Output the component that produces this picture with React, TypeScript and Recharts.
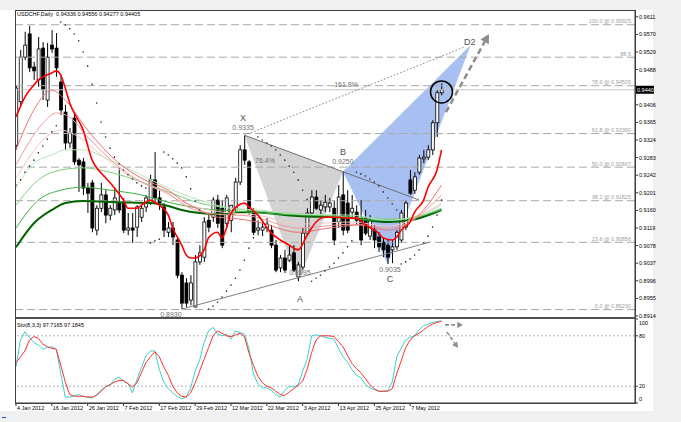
import { ComposedChart, Bar, Line, XAxis, YAxis, ReferenceLine, ReferenceArea, ReferenceDot } from "recharts";

// USDCHF daily, 4 Jan 2012 - 16 May 2012 (bar index 0..95)
const opens = [
  0.9312, 0.9413, 0.9517, 0.9571, 0.9494, 0.9464, 0.9538, 0.9417, 0.9545, 0.9538,
  0.9459, 0.9389, 0.9317, 0.9375, 0.9277, 0.9273, 0.9212, 0.9224, 0.9114, 0.9165,
  0.9196, 0.9149, 0.9161, 0.9177, 0.9179, 0.9114, 0.9119, 0.9121, 0.9144, 0.9168,
  0.9179, 0.9231, 0.9189, 0.9168, 0.9109, 0.9119, 0.9091, 0.9009, 0.8991, 0.8951,
  0.8935, 0.904, 0.9051, 0.9137, 0.9144, 0.9184, 0.9165, 0.913, 0.9137, 0.9165,
  0.9226, 0.9301, 0.9273, 0.9156, 0.9114, 0.9114, 0.9119, 0.9114, 0.9079, 0.9026,
  0.9049, 0.9044, 0.9061, 0.9005, 0.9028, 0.9107, 0.9154, 0.9191, 0.9161, 0.9168,
  0.9168, 0.9165, 0.9133, 0.9196, 0.9177, 0.9156, 0.9156, 0.9144, 0.9142, 0.91,
  0.9114, 0.9098, 0.9086, 0.9079, 0.9068, 0.9075, 0.9091, 0.9121, 0.9231, 0.9207,
  0.9249, 0.928, 0.9284, 0.9301, 0.9364, 0.9434,
];
const highs = [
  0.9452, 0.9534, 0.9576, 0.959, 0.9506, 0.9564, 0.9552, 0.955, 0.958, 0.9573,
  0.9475, 0.9406, 0.9352, 0.9389, 0.9282, 0.9282, 0.9224, 0.9231, 0.9172, 0.9224,
  0.9207, 0.9172, 0.9212, 0.9259, 0.9189, 0.9154, 0.9154, 0.9172, 0.9172, 0.9196,
  0.9243, 0.9296, 0.9207, 0.9177, 0.9133, 0.9133, 0.9098, 0.9016, 0.9002, 0.9009,
  0.9056, 0.9079, 0.9142, 0.9154, 0.9191, 0.9196, 0.9184, 0.9196, 0.9172, 0.9236,
  0.9312, 0.9335, 0.9277, 0.9165, 0.9137, 0.9133, 0.9142, 0.9126, 0.9091, 0.9056,
  0.9068, 0.9079, 0.9079, 0.904, 0.9119, 0.9165, 0.9207, 0.9207, 0.9184, 0.9196,
  0.9189, 0.9184, 0.9219, 0.925, 0.9207, 0.9196, 0.9172, 0.9184, 0.9161, 0.9149,
  0.9126, 0.9109, 0.9096, 0.9091, 0.9091, 0.9114, 0.9161, 0.9184, 0.9254, 0.9249,
  0.9289, 0.9301, 0.9312, 0.937, 0.9441, 0.9456,
];
const lows = [
  0.9301, 0.9403, 0.951, 0.9482, 0.9464, 0.9448, 0.9417, 0.9401, 0.9527, 0.9471,
  0.9382, 0.9301, 0.9305, 0.9266, 0.9203, 0.9196, 0.9154, 0.9109, 0.9102, 0.9156,
  0.913, 0.9137, 0.9149, 0.9154, 0.9107, 0.9102, 0.9084, 0.9098, 0.9133, 0.9156,
  0.9172, 0.9177, 0.9161, 0.9098, 0.9098, 0.9079, 0.9002, 0.893, 0.8935, 0.8939,
  0.8934, 0.9033, 0.904, 0.9109, 0.9133, 0.9119, 0.9072, 0.9119, 0.9109, 0.9156,
  0.9219, 0.9266, 0.9149, 0.9102, 0.9102, 0.91, 0.9109, 0.9072, 0.9016, 0.9016,
  0.9014, 0.904, 0.9016, 0.8995, 0.9021, 0.91, 0.9147, 0.9161, 0.9149, 0.9156,
  0.9156, 0.9079, 0.9119, 0.9102, 0.9107, 0.9142, 0.9126, 0.9079, 0.9102, 0.9091,
  0.9072, 0.9063, 0.9051, 0.9035, 0.9037, 0.9068, 0.9084, 0.9114, 0.9196, 0.9198,
  0.9243, 0.927, 0.9277, 0.9289, 0.9331, 0.9428,
];
const closes = [
  0.9445, 0.9517, 0.9545, 0.9492, 0.9485, 0.9536, 0.9441, 0.9517, 0.9536, 0.9492,
  0.9394, 0.9317, 0.934, 0.9273, 0.9266, 0.9212, 0.92, 0.9119, 0.9165, 0.9196,
  0.9149, 0.9165, 0.9189, 0.9161, 0.9114, 0.9119, 0.9114, 0.9168, 0.9165, 0.9189,
  0.9231, 0.9189, 0.9177, 0.9114, 0.9119, 0.9098, 0.9009, 0.8944, 0.8944, 0.8991,
  0.904, 0.9061, 0.9133, 0.9121, 0.9184, 0.913, 0.9079, 0.9189, 0.9172, 0.9226,
  0.9301, 0.9277, 0.9156, 0.9109, 0.9119, 0.9121, 0.9128, 0.9079, 0.9021, 0.9049,
  0.9021, 0.9056, 0.9021, 0.9033, 0.9107, 0.9154, 0.9191, 0.9165, 0.9172, 0.9179,
  0.9177, 0.9091, 0.9191, 0.9114, 0.9114, 0.9165, 0.9137, 0.9091, 0.9107, 0.9137,
  0.9091, 0.9075, 0.9068, 0.9051, 0.9075, 0.9109, 0.9154, 0.9177, 0.92, 0.9238,
  0.9282, 0.9284, 0.9301, 0.9364, 0.9434, 0.9441,
];
// parabolic SAR
const sar = [
  0.9219, 0.9231, 0.9249, 0.9263, 0.9277, 0.9294, 0.931, 0.9326, 0.9343, 0.9357,
  0.9599, 0.9592, 0.9583, 0.9571, 0.9555, 0.9529, 0.9496, 0.9454, 0.941, 0.9366,
  0.9331, 0.9305, 0.9284, 0.9268, 0.9254, 0.9243, 0.9233, 0.9224, 0.9217, 0.9212,
  0.9084, 0.9089, 0.9093, 0.9296, 0.9289, 0.928, 0.927, 0.9259, 0.9238, 0.921,
  0.9182, 0.9161, 0.9142, 0.893, 0.8937, 0.8946, 0.8958, 0.8972, 0.8986, 0.9002,
  0.9021, 0.9044, 0.9072, 0.9096, 0.9331, 0.9324, 0.9317, 0.931, 0.9301, 0.9289,
  0.9277, 0.9263, 0.9249, 0.9231, 0.9207, 0.9186, 0.8995, 0.9002, 0.9009, 0.9019,
  0.9028, 0.9037, 0.9049, 0.9061, 0.9075, 0.9089, 0.9249, 0.9245, 0.924, 0.9233,
  0.9226, 0.9217, 0.9203, 0.9189, 0.9175, 0.9161, 0.9035, 0.904, 0.9047, 0.9056,
  0.9068, 0.9084, 0.91, 0.9121, 0.9149, 0.9184,
];
// Stochastic %K and %D
const stochK = [
  43, 75, 85, 78, 72, 69, 64, 66, 67, 64, 35, 7, 7, 9, 10, 8, 7, 6, 10, 15,
  20, 21, 28, 31, 26, 23, 12, 28, 42, 56, 62, 62, 40, 25, 17, 12, 8, 5, 7, 18,
  38, 51, 72, 86, 90, 82, 80, 82, 76, 86, 84, 82, 65, 35, 23, 18, 18, 15, 10, 7,
  15, 20, 19, 22, 38, 52, 80, 81, 80, 78, 77, 76, 65, 55, 49, 40, 33, 30, 22, 18,
  16, 14, 14, 15, 25, 55, 65, 75, 78, 80, 87, 92, 94, 96, 97, 97.7,
];
const stochD = [
  48, 55, 62, 75, 79, 77, 70, 67, 65, 64, 45, 25, 10, 8, 8, 8, 7, 7, 9, 14,
  19, 22, 25, 27, 27, 23, 19, 24, 36, 48, 55, 61, 55, 43, 33, 20, 12, 8, 7, 12,
  24, 38, 52, 66, 80, 86, 83, 80, 79, 81, 83, 79, 60, 45, 32, 24, 20, 18, 14, 10,
  9, 13, 17, 21, 26, 40, 60, 75, 80, 80, 80, 79, 73, 67, 57, 47, 41, 36, 29, 22,
  17, 14, 14, 14, 17, 35, 50, 66, 75, 80, 83, 87, 91, 94, 96, 97.2,
];

// moving-average ribbon, read as [bar, price]
const maFast = [
  [0, 0.9378], [2, 0.9424], [4, 0.9452], [5, 0.9464], [8, 0.948], [9, 0.9485], [10, 0.9475],
  [11, 0.9445], [12, 0.941], [15, 0.9347], [17, 0.9277], [19, 0.9247], [20, 0.9236], [22, 0.9212],
  [24, 0.9184], [25, 0.9165], [27, 0.9165], [28, 0.9172], [30, 0.9184], [31, 0.9179], [32, 0.9172],
  [34, 0.9149], [35, 0.9119], [37, 0.9079], [38, 0.9056], [39, 0.9049], [40, 0.9049], [42, 0.9068],
  [43, 0.9096], [45, 0.9109], [46, 0.9096], [47, 0.9119], [48, 0.9154], [51, 0.9177], [52, 0.9168],
  [54, 0.9149], [57, 0.9107], [59, 0.9091], [61, 0.9079], [63, 0.9068], [65, 0.9102], [67, 0.9133],
  [69, 0.9144], [72, 0.9144], [74, 0.9142], [76, 0.9142], [78, 0.9126], [81, 0.9107], [82, 0.9096],
  [84, 0.9091], [85, 0.9098], [86, 0.9114], [88, 0.9133], [89, 0.9156], [91, 0.9184], [92, 0.9214],
  [94, 0.9254], [95, 0.9301],
];
const maRed1 = [
  [0, 0.9301], [4, 0.9394], [8, 0.944], [11, 0.9417], [16, 0.9347], [23, 0.927], [28, 0.9235],
  [34, 0.9207], [38, 0.9177], [41, 0.9161], [45, 0.9144], [48, 0.9142], [54, 0.9133], [63, 0.9109],
  [70, 0.9119], [77, 0.9126], [83, 0.9114], [88, 0.9133], [91, 0.9161], [95, 0.9219],
];
const maRed2 = [
  [0, 0.9266], [6, 0.9363], [9, 0.9387], [12, 0.9377], [16, 0.9331], [23, 0.9261], [28, 0.9226],
  [34, 0.92], [38, 0.917], [45, 0.9151], [52, 0.9147], [63, 0.9119], [75, 0.9128], [83, 0.9119],
  [88, 0.9133], [91, 0.9156], [95, 0.9196],
];
const maRed3 = [
  [0, 0.9235], [8, 0.934], [10, 0.9347], [14, 0.9331], [19, 0.9289], [25, 0.9242], [32, 0.9207],
  [39, 0.9172], [46, 0.9156], [54, 0.9149], [63, 0.9128], [75, 0.9133], [83, 0.9123], [90, 0.9147],
  [95, 0.9177],
];
const maGreen1 = [
  [0, 0.9212], [4, 0.927], [8, 0.9289], [11, 0.9301], [15, 0.9301], [21, 0.9277], [28, 0.9242],
  [34, 0.9212], [41, 0.9184], [48, 0.9165], [54, 0.9161], [63, 0.9151], [75, 0.9149], [83, 0.9137],
  [90, 0.9149], [95, 0.9172],
];
const maGreen2 = [
  [0, 0.9172], [5, 0.9231], [10, 0.9254], [15, 0.9259], [21, 0.9249], [28, 0.9226], [34, 0.9203],
  [41, 0.9177], [48, 0.9165], [57, 0.9156], [68, 0.9149], [79, 0.9142], [86, 0.914], [95, 0.9165],
];
const maGreen3 = [
  [0, 0.9119], [5, 0.9184], [10, 0.9207], [15, 0.9214], [21, 0.9207], [28, 0.9196], [34, 0.9179],
  [41, 0.9165], [50, 0.9158], [59, 0.9151], [70, 0.9147], [81, 0.9137], [88, 0.9142], [95, 0.9161],
];
const maSlow = [
  [0, 0.9074], [4, 0.913], [8, 0.9161], [11, 0.9177], [15, 0.9182], [23, 0.9179], [30, 0.9177],
  [34, 0.917], [37, 0.9161], [41, 0.9154], [46, 0.9151], [52, 0.9156], [63, 0.9147], [75, 0.9142],
  [83, 0.9133], [88, 0.9137], [95, 0.9161],
];

const dateTicks = [0, 8, 16, 24, 32, 40, 48, 56, 64, 72, 80, 88];
const dateLabels = [
  "4 Jan 2012", "16 Jan 2012", "26 Jan 2012", "7 Feb 2012", "17 Feb 2012", "29 Feb 2012",
  "12 Mar 2012", "22 Mar 2012", "3 Apr 2012", "13 Apr 2012", "25 Apr 2012", "7 May 2012",
];
const priceTicks = [
  0.8914, 0.8955, 0.8996, 0.9037, 0.9078, 0.9119, 0.916, 0.9201, 0.9242, 0.9283, 0.9324,
  0.9365, 0.9406, 0.9488, 0.9529, 0.957, 0.9611,
];
const fibPrices = [0.8929, 0.90856, 0.91825, 0.92607, 0.9339, 0.94505, 0.95169, 0.95925];
const fibLabels = [
  "0.0 @ 0.89290", "23.6 @ 0.90856", "38.2 @ 0.91825", "50.0 @ 0.92607",
  "61.8 @ 0.93390", "78.6 @ 0.94505", "88.6", "100.0 @ 0.95925",
];

// harmonic pattern pivots X, A, B, C, D
const pivotBars = [51, 63, 73, 83, 101.5];
const pivotPrices = [0.9335, 0.8995, 0.925, 0.9035, 0.9545];

const noteText = ["X", "0.9335", "B", "0.9250", "0.8995", "A", "0.9035", "C", "D2", "0.8930", "161.8%", "76.4%"];
const noteBar = [50.7, 50.7, 73, 73, 63.4, 63.4, 83.5, 83.5, 101.3, 34.6, 73.7, 55.6];
const notePrice = [0.9375, 0.9352, 0.9296, 0.9273, 0.9015, 0.8953, 0.9023, 0.9, 0.9552, 0.8918, 0.9454, 0.9275];
const noteSize = [9, 7, 9, 7, 7, 9, 7, 9, 9, 7, 7, 7];

const X_MIN = -0.22;
const X_MAX = 138.2;
const P_MIN = 0.89093;
const P_MAX = 0.96268;
const FONT = "Liberation Sans, Arial, sans-serif";

const rows = opens.map((o, i) => ({ i, o, h: highs[i], l: lows[i], c: closes[i], sar: sar[i] }));
const stochRows = stochK.map((k, i) => ({ i, k, d: stochD[i] }));
const toRows = (pairs: number[][]) => pairs.map(([i, v]) => ({ i, v }));

const maLines = [
  { data: maSlow, color: "#006400", w: 2 },
  { data: maGreen3, color: "#3cb043", w: 1 },
  { data: maGreen2, color: "#7ccf7c", w: 1 },
  { data: maGreen1, color: "#b5e6b5", w: 1 },
  { data: maRed3, color: "#f7c4c4", w: 1 },
  { data: maRed2, color: "#f29a9a", w: 1 },
  { data: maRed1, color: "#ee7070", w: 1 },
  { data: maFast, color: "#ff0000", w: 1.6 },
];

function Candle(props: any) {
  const { x, width, payload } = props;
  let { y, height } = props;
  if (height < 0) {
    y += height;
    height = -height;
  }
  const { o, h, l, c } = payload;
  const ppu = h === l ? 0 : height / (h - l);
  const yOf = (v: number) => y + (h - v) * ppu;
  const cx = x + width / 2;
  const top = yOf(Math.max(o, c));
  const bot = yOf(Math.min(o, c));
  return (
    <g>
      <line x1={cx} x2={cx} y1={y} y2={y + height} stroke="#000" strokeWidth={1} />
      <rect x={x} y={top} width={width} height={Math.max(0.8, bot - top)} fill={c >= o ? "#fff" : "#000"} stroke="#000" strokeWidth={0.8} />
    </g>
  );
}

// draws in data units inside a ReferenceArea, whose rect comes from the chart scales
function overlay(key: string, bars: number[], vals: number[], pad: number, draw: (X: any, Y: any) => any) {
  const x1 = Math.min(...bars) - 1;
  const x2 = Math.max(...bars) + 1;
  const y1 = Math.min(...vals) - pad;
  const y2 = Math.max(...vals) + pad;
  return (
    <ReferenceArea
      key={key}
      x1={x1}
      x2={x2}
      y1={y1}
      y2={y2}
      ifOverflow="visible"
      shape={(r: any) => {
        const X = (b: number) => r.x + ((b - x1) / (x2 - x1)) * r.width;
        const Y = (v: number) => r.y + ((y2 - v) / (y2 - y1)) * r.height;
        return draw(X, Y);
      }}
    />
  );
}

function arrow(key: string, b1: number, v1: number, b2: number, v2: number, pad: number, w: number) {
  return overlay(key, [b1, b2], [v1, v2], pad, (X, Y) => {
    const ax = X(b1), ay = Y(v1), bx = X(b2), by = Y(v2);
    const len = Math.hypot(bx - ax, by - ay);
    const ux = (bx - ax) / len, uy = (by - ay) / len;
    const hl = w * 3.6, hw = w * 1.9;
    const sx = bx - ux * hl, sy = by - uy * hl;
    const pts = `${bx},${by} ${sx - uy * hw},${sy + ux * hw} ${sx + uy * hw},${sy - ux * hw}`;
    return (
      <g>
        <line x1={ax} y1={ay} x2={sx} y2={sy} stroke="#8c8c8c" strokeWidth={w} strokeDasharray={`${w * 2.4} ${w * 1.4}`} />
        <polygon points={pts} fill="#8c8c8c" />
      </g>
    );
  });
}

function triangle(key: string, idx: number[], fill: string) {
  const bs = idx.map((k) => pivotBars[k]);
  const vs = idx.map((k) => pivotPrices[k]);
  return overlay(key, bs, vs, 0.001, (X, Y) => (
    <polygon points={bs.map((b, k) => `${X(b)},${Y(vs[k])}`).join(" ")} fill={fill} />
  ));
}

const PriceTick = (p: any) => (
  <text x={p.x} y={p.y} dy="0.35em" fontSize={5.5} fontFamily={FONT} fill="#000" textAnchor="start">
    {Number(p.payload.value).toFixed(4)}
  </text>
);

const StochTick = (p: any) => {
  const v = p.payload.value;
  const off = v === 100 ? 4 : v === 0 ? -4 : 0;
  return (
    <text x={p.x} y={p.y + off} dy="0.35em" fontSize={5.5} fontFamily={FONT} fill="#000" textAnchor="start">
      {v}
    </text>
  );
};

const DateTick = (p: any) => (
  <text x={p.x + 1} y={p.y + 3} fontSize={5.5} fontFamily={FONT} fill="#000" textAnchor="start">
    {dateLabels[dateTicks.indexOf(p.payload.value)]}
  </text>
);

export default function App() {
  const last = closes[closes.length - 1];
  const X = pivotBars[0], XP = pivotPrices[0];
  const slopeXB = (pivotPrices[2] - XP) / (pivotBars[2] - X);
  return (
    <div style={{ position: "absolute", left: 0, top: 0, width: 681, height: 422, background: "#f0f0f0", overflow: "hidden" }}>
      <div style={{ position: "absolute", left: 0, top: 10, width: 653, height: 401, background: "#fff" }} />
      <div style={{ position: "absolute", left: 0, top: 0 }}>
        <ComposedChart width={681} height={322} data={rows} margin={{ top: 10, right: 6, bottom: 4, left: 15 }}>
          <XAxis hide type="number" dataKey="i" domain={[X_MIN, X_MAX]} allowDataOverflow />
          <YAxis
            orientation="right"
            width={40}
            domain={[P_MIN, P_MAX]}
            allowDataOverflow
            ticks={priceTicks}
            interval={0}
            tickSize={3}
            tickMargin={1}
            axisLine={{ stroke: "#333" }}
            tickLine={{ stroke: "#333" }}
            tick={PriceTick}
          />
          {fibPrices.map((p, k) => (
            <ReferenceLine
              key={"fib" + k}
              y={p}
              stroke="#a8a8a8"
              strokeDasharray="8 4"
              label={(lp: any) => (
                <text x={lp.viewBox.x + lp.viewBox.width - 4} y={lp.viewBox.y - 1.5} fontSize={5.5} fontFamily={FONT} fill="#a0a0a0" textAnchor="end">
                  {fibLabels[k]}
                </text>
              )}
            />
          ))}
          <ReferenceLine
            y={last}
            stroke="#c4c4c4"
            label={(lp: any) => (
              <g>
                <rect x={lp.viewBox.x + lp.viewBox.width + 1} y={lp.viewBox.y - 4} width={18} height={8} fill="#000" />
                <text x={lp.viewBox.x + lp.viewBox.width + 2} y={lp.viewBox.y} dy="0.35em" fontSize={5.5} fontFamily={FONT} fill="#fff">
                  0.9440
                </text>
              </g>
            )}
          />
          {triangle("xab", [0, 1, 2], "#d3d3d3")}
          {triangle("bcd", [2, 3, 4], "#a7c0f1")}
          <ReferenceLine segment={[{ x: 37, y: 0.893 }, { x: 92.4, y: 0.9086 }]} stroke="#808080" />
          <ReferenceLine segment={[{ x: X, y: XP }, { x: 90, y: XP + slopeXB * (90 - X) }]} stroke="#707070" />
          <ReferenceLine segment={[{ x: X, y: XP }, { x: 100, y: 0.954 }]} stroke="#808080" strokeDasharray="1.5 2" />
          {maLines.map((m, k) => (
            <Line
              key={"ma" + k}
              data={toRows(m.data)}
              dataKey="v"
              type="monotone"
              stroke={m.color}
              strokeWidth={m.w}
              dot={false}
              activeDot={false}
              isAnimationActive={false}
            />
          ))}
          <Bar dataKey={(d: any) => [d.l, d.h]} barSize={3} shape={Candle} isAnimationActive={false} />
          <Line
            dataKey="sar"
            stroke="none"
            strokeWidth={0}
            activeDot={false}
            isAnimationActive={false}
            dot={(p: any) => <circle key={"s" + p.index} cx={p.cx} cy={p.cy} r={0.8} fill="#222" />}
          />
          <ReferenceDot x={95} y={0.9436} r={11} fill="none" stroke="#000" strokeWidth={1.5} ifOverflow="visible" />
          {arrow("up", 96, 0.9389, 105.6, 0.9571, 0.001, 2.5)}
          {noteText.map((t, k) => (
            <ReferenceDot
              key={"n" + k}
              x={noteBar[k]}
              y={notePrice[k]}
              r={0}
              ifOverflow="visible"
              shape={(p: any) => (
                <text x={p.cx} y={p.cy} dy="0.35em" textAnchor="middle" fontSize={noteSize[k]} fontFamily={FONT} fill={noteSize[k] > 8 ? "#505050" : "#707070"}>
                  {t}
                </text>
              )}
            />
          ))}
        </ComposedChart>
      </div>
      <div style={{ position: "absolute", left: 0, top: 318 }}>
        <ComposedChart width={681} height={104} data={stochRows} margin={{ top: 1, right: 6, bottom: 0, left: 15 }}>
          <XAxis
            type="number"
            dataKey="i"
            domain={[X_MIN, X_MAX]}
            allowDataOverflow
            ticks={dateTicks}
            interval={0}
            tickSize={3}
            tickMargin={1}
            height={19}
            tick={DateTick}
            axisLine={{ stroke: "#333" }}
            tickLine={{ stroke: "#333" }}
          />
          <YAxis
            orientation="right"
            width={40}
            domain={[0, 100]}
            ticks={[0, 20, 80, 100]}
            interval={0}
            tickSize={3}
            tickMargin={1}
            axisLine={{ stroke: "#333" }}
            tickLine={{ stroke: "#333" }}
            tick={StochTick}
          />
          <ReferenceLine y={80} stroke="#b4b4b4" strokeDasharray="2 2" />
          <ReferenceLine y={20} stroke="#b4b4b4" strokeDasharray="2 2" />
          <Line dataKey="k" stroke="#3fcfc8" strokeWidth={1} dot={false} activeDot={false} isAnimationActive={false} />
          <Line dataKey="d" stroke="#ff3030" strokeWidth={1} dot={false} activeDot={false} isAnimationActive={false} />
          {arrow("st1", 95.8, 93, 99.8, 93, 2, 1.6)}
          {arrow("st2", 96.2, 84.5, 98.7, 65.5, 2, 1.6)}
        </ComposedChart>
      </div>
      <div style={{ position: "absolute", left: 17, top: 11, fontSize: 5.5, fontFamily: FONT, color: "#000", whiteSpace: "pre" }}>
        USDCHF,Daily  0.94336 0.94556 0.94277 0.94405
      </div>
      <div style={{ position: "absolute", left: 17, top: 322, fontSize: 5.5, fontFamily: FONT, color: "#000", whiteSpace: "pre" }}>
        Sto(8,3,3) 97.7165 97.1845
      </div>
      <div style={{ position: "absolute", left: 15, top: 10, width: 621, height: 394, border: "1px solid #404040", boxSizing: "border-box", pointerEvents: "none" }} />
      <div style={{ position: "absolute", left: 15, top: 317, width: 621, height: 2, background: "#505050" }} />
      <div style={{ position: "absolute", left: 2, top: 417, width: 4, height: 1, background: "#2040ff" }} />
    </div>
  );
}
